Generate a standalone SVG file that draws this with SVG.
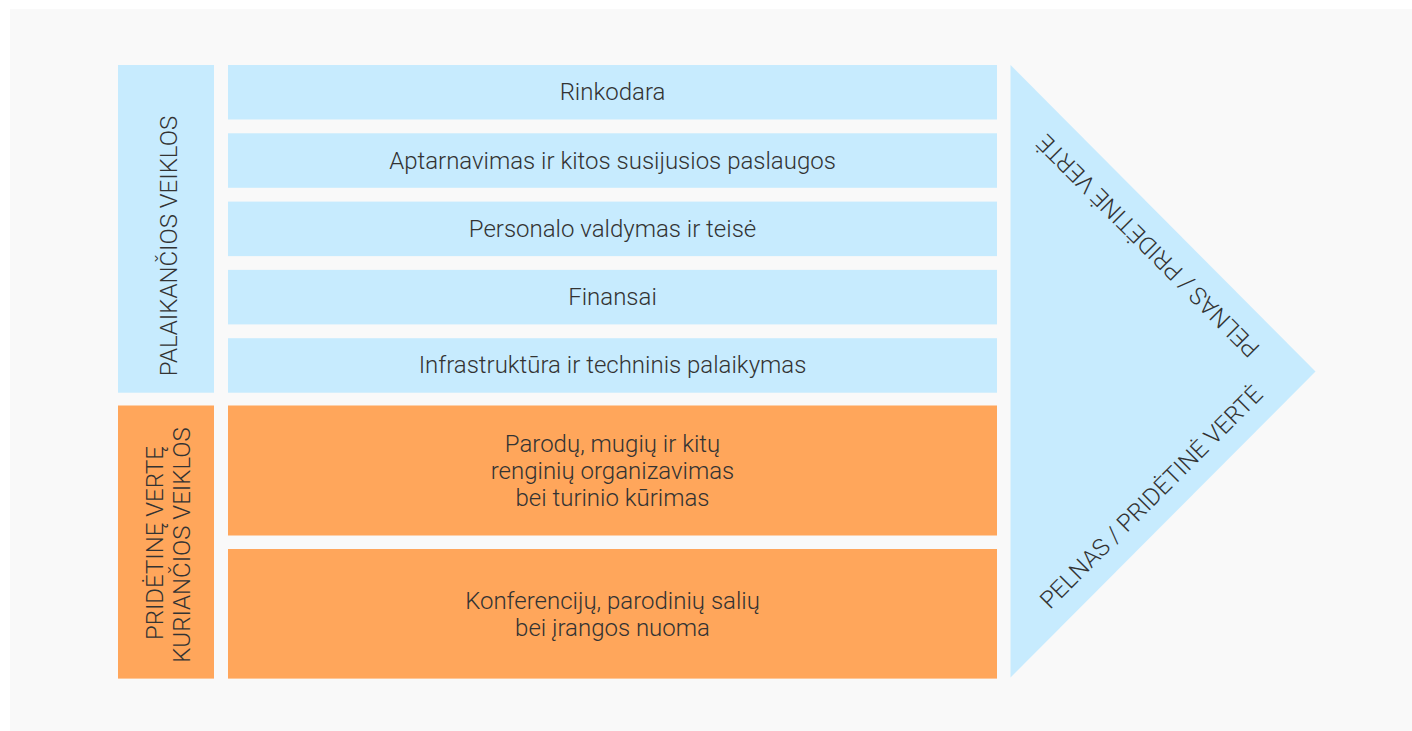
<svg xmlns="http://www.w3.org/2000/svg" width="1412" height="731" viewBox="0 0 1412 731">
<style>
.blue{fill:#c7ebfe}
.orange{fill:#ffa65b}
.t{font-family:Roboto,"Liberation Sans",sans-serif;font-size:24px;font-weight:300;fill:#333333;text-anchor:middle}
</style>
<rect x="0" y="0" width="1412" height="731" fill="#ffffff"/>
<rect x="10" y="9" width="1402" height="722" fill="#f9f9f9"/>
<g id="label-support">
<rect class="blue" x="118" y="65" width="96" height="327.7"/>
<text class="t" x="177" y="246" transform="rotate(-90 177 246)">PALAIKANČIOS VEIKLOS</text>
</g>
<g id="label-value">
<rect class="orange" x="118" y="405.5" width="96" height="273.1"/>
<text class="t" x="163" y="543" transform="rotate(-90 163 543)">PRIDĖTINĘ VERTĘ</text>
<text class="t" x="190" y="545" transform="rotate(-90 190 545)">KURIANČIOS VEIKLOS</text>
</g>
<g id="rinkodara">
<rect class="blue" x="228" y="65" width="769" height="54.5"/>
<text class="t" x="612.5" y="100">Rinkodara</text>
</g>
<g id="aptarnavimas">
<rect class="blue" x="228" y="133.3" width="769" height="54.5"/>
<text class="t" x="612.5" y="168.5">Aptarnavimas ir kitos susijusios paslaugos</text>
</g>
<g id="personalas">
<rect class="blue" x="228" y="201.6" width="769" height="54.5"/>
<text class="t" x="612.5" y="237">Personalo valdymas ir teisė</text>
</g>
<g id="finansai">
<rect class="blue" x="228" y="269.9" width="769" height="54.5"/>
<text class="t" x="612.5" y="304.5">Finansai</text>
</g>
<g id="infrastruktura">
<rect class="blue" x="228" y="338.2" width="769" height="54.5"/>
<text class="t" x="612.5" y="373">Infrastruktūra ir techninis palaikymas</text>
</g>
<g id="parodos">
<rect class="orange" x="228" y="405.5" width="769" height="130"/>
<text class="t" x="612.5" y="451.5">Parodų, mugių ir kitų</text>
<text class="t" x="612.5" y="478.5">renginių organizavimas</text>
<text class="t" x="612.5" y="505.5">bei turinio kūrimas</text>
</g>
<g id="nuoma">
<rect class="orange" x="228" y="549" width="769" height="129.6"/>
<text class="t" x="612.5" y="608.5">Konferencijų, parodinių salių</text>
<text class="t" x="612.5" y="635.5">bei įrangos nuoma</text>
</g>
<g id="pelnas">
<polygon class="blue" points="1010.5,65 1315.5,371.5 1010.5,677.5"/>
<text class="t" x="1154" y="240" transform="rotate(225 1154 240)">PELNAS / PRIDĖTINĖ VERTĖ</text>
<text class="t" x="1157" y="503" transform="rotate(-45 1157 503)">PELNAS / PRIDĖTINĖ VERTĖ</text>
</g>
<g id="connectors"/>
</svg>
